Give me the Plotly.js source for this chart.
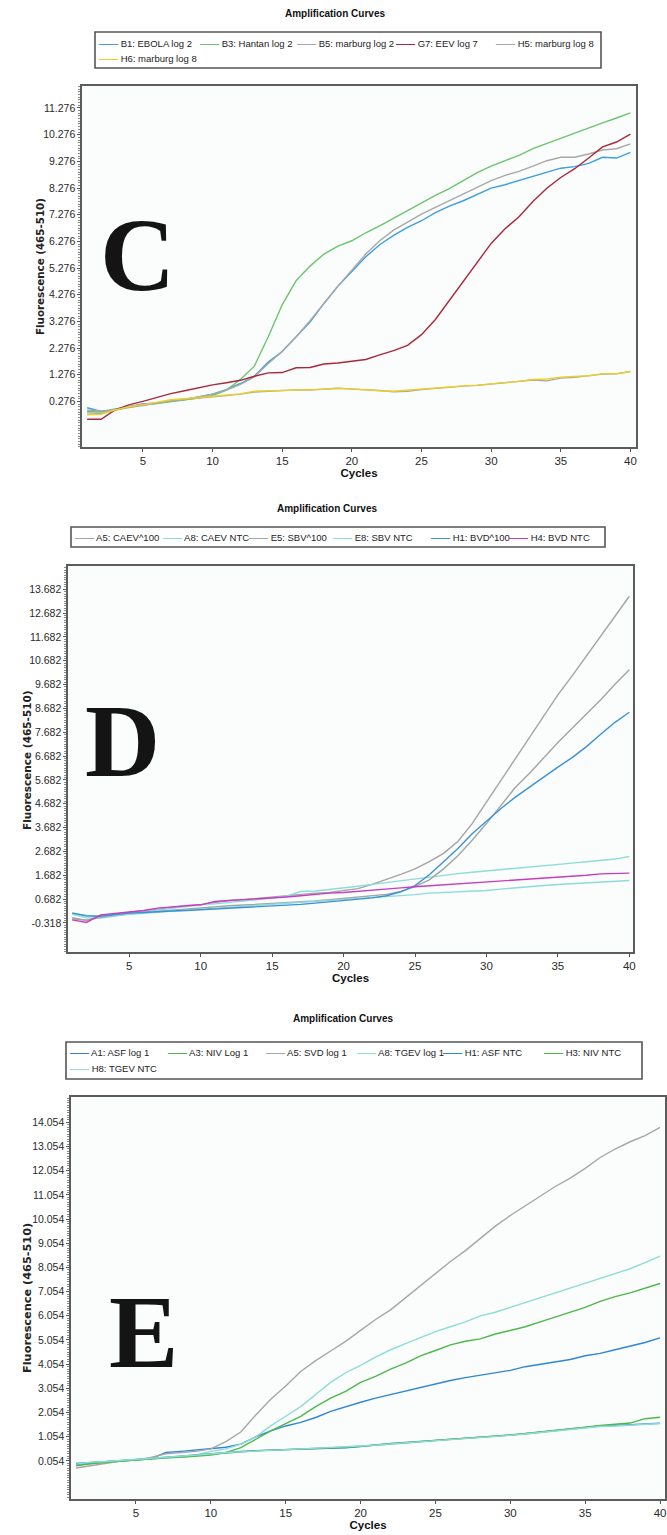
<!DOCTYPE html>
<html><head><meta charset="utf-8">
<script src="https://cdn.plot.ly/plotly-3.0.1.min.js"></script>
<style>html,body{margin:0;padding:0;background:#fff;}#chart{width:667px;height:1535px;}</style>
</head><body><div id="chart"></div>
<script>
// ---------------- DATA ----------------
const cycles = [1,2,3,4,5,6,7,8,9,10,11,12,13,14,15,16,17,18,19,20,21,22,23,24,25,26,27,28,29,30,31,32,33,34,35,36,37,38,39,40];
const xTicks = [5,10,15,20,25,30,35,40];

// Panel C
const cNames = ["B1: EBOLA log 2","B3: Hantan log 2","B5: marburg log 2","G7: EEV log 7","H5: marburg log 8","H6: marburg log 8"];
const cB1 = [0.04,-0.10,-0.05,0.08,0.18,0.22,0.30,0.35,0.45,0.55,0.72,0.95,1.22,1.75,2.15,2.70,3.25,3.95,4.60,5.15,5.70,6.15,6.50,6.80,7.05,7.35,7.60,7.80,8.05,8.27,8.40,8.55,8.70,8.85,9.02,9.08,9.20,9.43,9.40,9.61];
const cB3 = [-0.10,-0.12,0.00,0.08,0.15,0.20,0.27,0.33,0.40,0.50,0.70,1.10,1.60,2.70,3.90,4.80,5.35,5.80,6.10,6.30,6.60,6.86,7.15,7.45,7.72,8.00,8.25,8.55,8.85,9.10,9.30,9.50,9.75,9.95,10.15,10.35,10.55,10.72,10.90,11.09];
const cB5 = [-0.05,-0.08,-0.03,0.08,0.16,0.22,0.30,0.36,0.45,0.55,0.70,0.92,1.20,1.70,2.15,2.70,3.30,3.95,4.60,5.20,5.80,6.30,6.70,7.00,7.30,7.55,7.80,8.05,8.30,8.55,8.75,8.90,9.10,9.30,9.43,9.43,9.55,9.70,9.75,9.93];
const cG7 = [-0.39,-0.39,-0.04,0.15,0.28,0.42,0.57,0.68,0.80,0.90,0.98,1.07,1.22,1.35,1.36,1.54,1.55,1.68,1.72,1.78,1.85,2.02,2.18,2.38,2.78,3.35,4.07,4.80,5.52,6.20,6.75,7.20,7.77,8.27,8.67,9.00,9.40,9.82,10.00,10.30];
const cH5 = [-0.15,-0.18,-0.05,0.05,0.12,0.22,0.30,0.36,0.40,0.45,0.50,0.55,0.63,0.66,0.69,0.71,0.70,0.73,0.77,0.74,0.72,0.69,0.64,0.66,0.72,0.77,0.82,0.85,0.88,0.93,0.97,1.02,1.08,1.05,1.15,1.18,1.24,1.30,1.31,1.40];
const cH6 = [-0.22,-0.20,-0.04,0.08,0.15,0.25,0.34,0.38,0.42,0.46,0.50,0.56,0.66,0.67,0.70,0.71,0.72,0.74,0.77,0.75,0.71,0.68,0.66,0.70,0.74,0.78,0.84,0.86,0.89,0.93,0.98,1.03,1.10,1.12,1.19,1.21,1.24,1.32,1.32,1.40];
const cYTicks = [0.276,1.276,2.276,3.276,4.276,5.276,6.276,7.276,8.276,9.276,10.276,11.276];

// Panel D
const dNames = ["A5: CAEV^100","A8: CAEV NTC","E5: SBV^100","E8: SBV NTC","H1: BVD^100","H4: BVD NTC"];
const dA5 = [-0.10,-0.22,-0.02,0.05,0.12,0.20,0.28,0.33,0.40,0.45,0.55,0.62,0.66,0.72,0.78,0.84,0.90,0.93,0.96,1.05,1.12,1.30,1.50,1.72,1.95,2.25,2.60,3.10,3.85,4.75,5.65,6.55,7.45,8.35,9.25,10.05,10.87,11.70,12.55,13.39];
const dA8 = [0.05,-0.10,-0.12,-0.02,0.06,0.15,0.22,0.30,0.38,0.44,0.48,0.55,0.60,0.66,0.72,0.80,1.00,1.02,1.08,1.14,1.22,1.30,1.38,1.46,1.54,1.62,1.70,1.75,1.81,1.86,1.92,1.97,2.02,2.08,2.14,2.19,2.25,2.31,2.36,2.47];
const dE5 = [-0.15,-0.20,-0.08,0.00,0.06,0.12,0.17,0.22,0.27,0.32,0.36,0.40,0.43,0.46,0.50,0.53,0.57,0.60,0.65,0.70,0.78,0.82,0.88,1.00,1.20,1.49,1.95,2.50,3.15,3.85,4.60,5.35,5.95,6.60,7.25,7.85,8.45,9.05,9.70,10.31];
const dE8 = [0.10,-0.02,-0.05,0.00,0.05,0.10,0.14,0.18,0.22,0.26,0.30,0.34,0.38,0.42,0.46,0.50,0.54,0.58,0.62,0.66,0.70,0.73,0.76,0.80,0.87,0.93,0.95,0.97,1.00,1.04,1.10,1.16,1.21,1.25,1.29,1.32,1.36,1.39,1.43,1.46];
const dH1 = [0.09,-0.02,-0.04,0.03,0.09,0.12,0.16,0.18,0.20,0.23,0.25,0.28,0.31,0.34,0.37,0.42,0.46,0.51,0.56,0.62,0.68,0.73,0.82,0.98,1.25,1.70,2.25,2.80,3.42,3.95,4.47,4.95,5.38,5.80,6.22,6.62,7.08,7.60,8.10,8.52];
const dH4 = [-0.19,-0.30,0.02,0.07,0.12,0.20,0.30,0.36,0.40,0.44,0.58,0.62,0.65,0.68,0.72,0.77,0.82,0.88,0.93,0.96,1.00,1.05,1.10,1.15,1.20,1.24,1.28,1.31,1.35,1.39,1.43,1.47,1.50,1.54,1.58,1.63,1.68,1.74,1.76,1.77];
const dYTicks = [-0.318,0.682,1.682,2.682,3.682,4.682,5.682,6.682,7.682,8.682,9.682,10.682,11.682,12.682,13.682];

// Panel E
const eNames = ["A1: ASF log 1","A3: NIV Log 1","A5: SVD log 1","A8: TGEV log 1","H1: ASF NTC","H3: NIV NTC","H8: TGEV NTC"];
const eA1 = [-0.05,-0.02,0.02,0.06,0.10,0.15,0.40,0.45,0.50,0.55,0.62,0.75,1.05,1.30,1.50,1.65,1.85,2.10,2.30,2.48,2.65,2.80,2.95,3.10,3.25,3.38,3.50,3.60,3.70,3.80,3.95,4.05,4.15,4.25,4.40,4.50,4.65,4.80,4.95,5.14];
const eA3 = [-0.12,-0.05,0.00,0.05,0.10,0.14,0.18,0.20,0.24,0.30,0.40,0.60,0.95,1.30,1.60,1.90,2.30,2.65,2.93,3.30,3.55,3.85,4.10,4.40,4.62,4.85,5.00,5.10,5.30,5.45,5.60,5.80,6.00,6.20,6.40,6.65,6.85,7.00,7.20,7.39];
const eA5 = [-0.24,-0.15,-0.05,0.05,0.10,0.20,0.35,0.40,0.45,0.55,0.85,1.25,1.95,2.60,3.15,3.75,4.20,4.60,5.00,5.45,5.90,6.30,6.80,7.30,7.80,8.30,8.75,9.25,9.76,10.20,10.60,11.00,11.40,11.75,12.15,12.60,12.95,13.25,13.50,13.84];
const eA8 = [-0.10,-0.04,0.00,0.05,0.10,0.14,0.18,0.22,0.30,0.45,0.55,0.75,1.05,1.50,1.90,2.30,2.80,3.30,3.70,4.00,4.35,4.65,4.90,5.15,5.40,5.60,5.80,6.05,6.20,6.40,6.60,6.80,7.00,7.20,7.40,7.60,7.80,8.00,8.25,8.52];
const eH1 = [-0.10,-0.02,0.02,0.06,0.10,0.15,0.20,0.25,0.30,0.35,0.42,0.45,0.48,0.50,0.53,0.56,0.58,0.60,0.60,0.65,0.72,0.78,0.82,0.86,0.90,0.95,0.99,1.02,1.07,1.12,1.18,1.24,1.30,1.38,1.45,1.50,1.52,1.55,1.58,1.61];
const eH3 = [-0.15,-0.05,0.00,0.05,0.10,0.14,0.18,0.22,0.28,0.32,0.38,0.43,0.47,0.50,0.52,0.55,0.58,0.60,0.62,0.66,0.70,0.75,0.80,0.85,0.90,0.94,0.98,1.02,1.07,1.13,1.19,1.25,1.30,1.36,1.45,1.52,1.56,1.62,1.80,1.86];
const eH8 = [-0.08,0.00,0.03,0.07,0.11,0.16,0.21,0.26,0.30,0.34,0.40,0.44,0.47,0.49,0.52,0.55,0.57,0.59,0.61,0.64,0.70,0.76,0.80,0.85,0.89,0.93,0.97,1.01,1.06,1.11,1.17,1.23,1.29,1.36,1.43,1.48,1.50,1.54,1.57,1.60];
const eYTicks = [0.054,1.054,2.054,3.054,4.054,5.054,6.054,7.054,8.054,9.054,10.054,11.054,12.054,13.054,14.054];

// ---------------- STYLE / GEOMETRY ----------------
const W = 667, H = 1535;
const px = v => v / W;
const py = v => 1 - v / H;
const SANS = "'Liberation Sans',Arial,sans-serif";

const panels = [
  { key:'', names:cNames, series:[cB1,cB3,cB5,cG7,cH5,cH6],
    colors:['#3d9ee0','#6cc46c','#a8a8a8','#a8283c','#a8a8a8','#ecd028'],
    yticks:cYTicks, frame:[82,636,86,447], xrange:[0.63,40.4], yrange:[-1.43,12.1],
    ytitle:[40,267,10.3],
    title:[335,14], letter:['C',137,254],
    box:[95,601,32,68], legendText:[[118,43],[219,43],[316,43],[415,43],[515,43],[118,59]] },
  { key:'2', names:dNames, series:[dA5,dA8,dE5,dE8,dH1,dH4],
    colors:['#a4a4a4','#8ddcd6','#a4a4a4','#8ddcd6','#3a92d8','#c83cc0'],
    yticks:dYTicks, frame:[68,633,566,952], xrange:[0.71,40.26], yrange:[-1.54,14.66],
    ytitle:[27,760,10.5],
    title:[327,508], letter:['D',122,740],
    box:[71,605,527,547], legendText:[[94,537],[182,537],[268,537],[352,537],[450,537],[528,537]] },
  { key:'3', names:eNames, series:[eA1,eA3,eA5,eA8,eH1,eH3,eH8],
    colors:['#2f86d6','#4cb848','#a6a6a6','#8ddcd6','#2f86d6','#4cb848','#8ddcd6'],
    yticks:eYTicks, frame:[71,665,1097,1499], xrange:[0.66,40.33], yrange:[-1.52,15.1],
    ytitle:[27,1298,11.3],
    title:[343,1018], letter:['E',143,1331],
    box:[66,642,1042,1079], legendText:[[89,1052],[187,1052],[285,1052],[376,1052],[462,1052],[563,1052],[89,1068]] }
];

const traces = [];
const annotations = [];
const shapes = [];
const layout = {
  width: W, height: H,
  margin: {l:0, r:0, t:0, b:0},
  paper_bgcolor: '#ffffff',
  plot_bgcolor: '#fbfcfc',
  showlegend: false,
  font: {family: SANS, color: '#333'},
  annotations, shapes
};

panels.forEach(p => {
  const xa = 'x' + p.key, ya = 'y' + p.key;
  p.series.forEach((ys, i) => {
    traces.push({
      type: 'scatter', mode: 'lines', name: p.names[i],
      x: cycles, y: ys, xaxis: xa, yaxis: ya,
      line: {color: p.colors[i], width: 1.4},
      hoverinfo: 'name+x+y'
    });
  });
  const [l, r, t, b] = p.frame;
  layout['xaxis' + p.key] = {
    domain: [px(l), px(r)], range: p.xrange, anchor: ya,
    tickmode: 'array', tickvals: xTicks, ticktext: xTicks.map(String),
    ticks: 'outside', ticklen: 3, tickcolor: '#555', ticklabeloverflow: 'allow',
    showline: true, mirror: true, linecolor: '#5c5c5c', linewidth: 1.6,
    showgrid: false, zeroline: false,
    tickfont: {family: SANS, size: 11.5, color: '#2a2a2a'},
    title: {text: '<b>Cycles</b>', font: {family: SANS, size: 11.5, color: '#111'}, standoff: 1}
  };
  layout['yaxis' + p.key] = {
    domain: [py(b), py(t)], range: p.yrange, anchor: xa,
    tickmode: 'array', tickvals: p.yticks, ticktext: p.yticks.map(v => v.toFixed(3)),
    ticks: 'outside', ticklen: 3, tickcolor: '#555',
    minor: {dtick: 0.1, tick0: p.yticks[0], ticks: 'outside', ticklen: 2, tickcolor: '#888', showgrid: false},
    showline: true, mirror: true, linecolor: '#5c5c5c', linewidth: 1.6,
    showgrid: false, zeroline: false,
    tickfont: {family: SANS, size: 10.5, color: '#2a2a2a'}
  };
  // y-axis title (rotated text)
  annotations.push({text: '<b>Fluorescence (465-510)</b>', xref: 'paper', yref: 'paper',
    x: px(p.ytitle[0]), y: py(p.ytitle[1]), xanchor: 'center', yanchor: 'middle', textangle: -90,
    showarrow: false, font: {family: "'DejaVu Sans',Verdana,sans-serif", size: p.ytitle[2], color: '#222'}});
  // chart title
  annotations.push({text: '<b>Amplification Curves</b>', xref: 'paper', yref: 'paper',
    x: px(p.title[0]), y: py(p.title[1]), xanchor: 'center', yanchor: 'middle', showarrow: false,
    font: {family: SANS, size: 10, color: '#111'}});
  // panel letter
  annotations.push({text: '<b>' + p.letter[0] + '</b>', xref: 'paper', yref: 'paper',
    x: px(p.letter[1]), y: py(p.letter[2]), xanchor: 'center', yanchor: 'middle', showarrow: false,
    font: {family: "'Liberation Serif','Times New Roman',serif", size: 104, color: '#141414'}});
  // legend box
  const [bl, br, bt, bb] = p.box;
  shapes.push({type: 'rect', xref: 'paper', yref: 'paper', x0: px(bl), x1: px(br), y0: py(bb), y1: py(bt),
    line: {color: '#555', width: 1.6}, fillcolor: '#ffffff', layer: 'below'});
  // legend entries
  p.names.forEach((nm, i) => {
    const [tx, ty] = p.legendText[i];
    annotations.push({text: '<b><span style="color:' + p.colors[i] + '">\u2014\u2014</span></b> ' + nm,
      xref: 'paper', yref: 'paper', x: px(tx - 20), y: py(ty), xanchor: 'left', yanchor: 'middle',
      showarrow: false, borderpad: 0,
      font: {family: SANS, size: 9.5, color: '#222'}});
  });
});

Plotly.newPlot('chart', traces, layout, {staticPlot: true, displayModeBar: false});
</script>
</body></html>
